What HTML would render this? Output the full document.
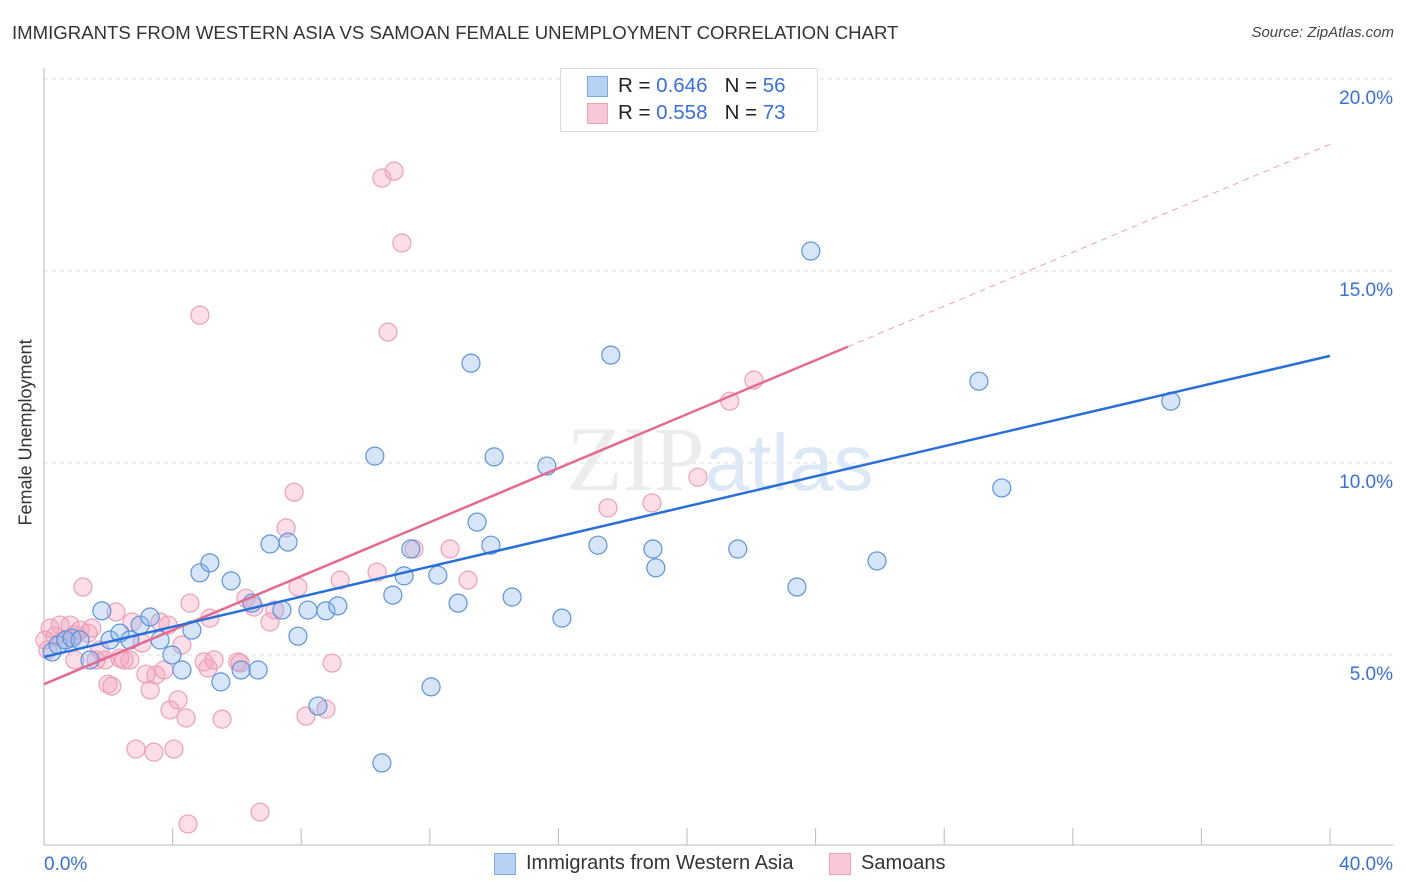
<!DOCTYPE html>
<html><head><meta charset="utf-8">
<style>
body{margin:0;background:#fff;font-family:"Liberation Sans",sans-serif;}
#wrap{position:relative;width:1406px;height:892px;overflow:hidden;}
.t{position:absolute;white-space:nowrap;}
</style></head>
<body>
<div id="wrap">
<div class="t" style="left:12px;top:22px;font-size:18.6px;color:#333;">IMMIGRANTS FROM WESTERN ASIA VS SAMOAN FEMALE UNEMPLOYMENT CORRELATION CHART</div>
<div class="t" style="right:12px;top:24px;font-size:15px;color:#444;font-style:italic;">Source: ZipAtlas.com</div>
<div class="t" style="left:-44px;top:445px;font-size:18px;color:#333;transform:rotate(-90deg);width:140px;text-align:center;">Female Unemployment</div>
<svg id="svg" width="1406" height="892" style="position:absolute;left:0;top:0"></svg>
<div style="position:absolute;left:560px;top:68px;width:256px;height:62px;border:1px solid #ddd;background:#fff;"></div>
<div style="position:absolute;left:587px;top:76px;width:19px;height:19px;background:#b8d2f4;border:1px solid #7fa8e0;"></div>
<div style="position:absolute;left:587px;top:103px;width:19px;height:19px;background:#f9c8d6;border:1px solid #eea2bb;"></div>
<div class="t" style="left:618px;top:74px;font-size:20.5px;color:#222;">R = <span style="color:#3a6fd8">0.646</span>&nbsp;&nbsp;&nbsp;N = <span style="color:#3a6fd8">56</span></div>
<div class="t" style="left:618px;top:101px;font-size:20.5px;color:#222;">R = <span style="color:#3a6fd8">0.558</span>&nbsp;&nbsp;&nbsp;N = <span style="color:#3a6fd8">73</span></div>
<div style="position:absolute;left:494px;top:853px;width:20px;height:20px;background:#b8d2f4;border:1px solid #7fa8e0;"></div>
<div class="t" style="left:526px;top:852px;font-size:20px;color:#333;">Immigrants from Western Asia</div>
<div style="position:absolute;left:829px;top:853px;width:20px;height:20px;background:#f9c8d6;border:1px solid #eea2bb;"></div>
<div class="t" style="left:861px;top:852px;font-size:20px;color:#333;">Samoans</div>
</div>
<script>
const xTicks=[0,40];
const yTicks=[5,10,15,20];
const blueX=[0.25,0.44,0.68,0.87,1.12,1.43,1.80,2.05,2.36,2.67,2.99,3.30,3.61,3.98,4.29,4.60,4.85,5.16,5.50,5.82,6.13,6.47,6.66,7.03,7.40,7.59,7.90,8.21,8.52,8.77,9.14,10.29,10.51,10.85,11.20,11.41,12.04,12.25,12.88,13.28,13.47,13.90,14.00,14.56,15.64,16.11,17.23,17.63,18.94,19.03,21.58,23.42,23.85,25.91,29.08,29.79,35.05];
const blueY=[5.08,5.26,5.39,5.44,5.39,4.87,6.15,5.39,5.57,5.39,5.78,5.99,5.39,5.00,4.61,5.65,7.14,7.40,4.30,6.93,4.61,6.35,4.61,7.89,6.17,7.94,5.49,6.17,3.67,6.15,6.28,10.18,2.19,6.56,7.06,7.76,4.17,7.08,6.35,12.60,8.46,7.86,10.16,6.51,9.92,5.96,7.86,12.81,7.76,7.27,7.76,6.77,15.52,7.45,12.13,9.35,11.61];
const pinkX=[0.19,0.34,0.50,0.65,0.81,0.96,1.12,1.21,1.37,1.49,1.62,1.74,1.90,1.99,2.11,2.24,2.36,2.49,2.67,2.74,2.86,3.05,3.17,3.30,3.42,3.48,3.61,3.73,3.86,3.92,4.04,4.17,4.29,4.42,4.54,4.85,4.98,5.10,5.16,5.29,5.54,6.03,6.10,6.28,6.53,6.72,7.03,7.18,7.53,7.78,7.90,8.15,8.77,8.96,9.21,10.36,10.51,10.70,10.89,11.13,11.51,12.63,13.19,17.54,18.91,20.34,21.33,22.08,0.03,0.12,4.48,0.96];
const pinkY=[5.70,5.49,5.78,5.39,5.78,5.52,5.65,6.77,5.57,5.70,4.87,5.13,4.87,4.24,4.19,6.12,4.92,4.87,4.87,5.86,2.55,5.31,4.50,4.09,2.47,4.48,5.86,4.61,5.78,3.57,2.55,3.83,5.26,3.36,6.35,13.85,4.82,4.66,5.96,4.87,3.33,4.82,4.79,6.48,6.25,0.91,5.86,6.17,8.31,9.24,6.77,3.41,3.59,4.79,6.95,7.16,17.42,13.41,17.60,15.73,7.76,7.76,6.95,8.83,8.96,9.63,11.61,12.16,5.39,5.13,0.60,4.87];
const blueLine=[4.95,12.79];
const pinkLine=[4.24,18.3];
const pinkSolidEnd=25.0;

const X=v=>44+v/40*1286, Y=v=>847-v/5*192;
const svg=document.getElementById('svg'),NS='http://www.w3.org/2000/svg';
function mk(t,a){const e=document.createElementNS(NS,t);for(const k in a)e.setAttribute(k,a[k]);svg.appendChild(e);return e;}
yTicks.forEach(v=>{
 const g=mk('line',{x1:44,x2:1393,y1:Y(v),y2:Y(v),stroke:'#ddd','stroke-dasharray':'4,4'});
 
 
 const t=mk('text',{x:1393,y:Y(v)+25,'text-anchor':'end','font-size':19,fill:'#3a6fd8','font-family':'Liberation Sans'});
 t.textContent=v.toFixed(1)+'%';
 
 
});
const ax=mk('line',{x1:44,x2:44,y1:68,y2:845,stroke:'#bbb'});


const bx=mk('line',{x1:44,x2:1393,y1:845,y2:845,stroke:'#bbb'});


for(let i=0;i<=10;i++){const tk=mk('line',{x1:X(i*4),x2:X(i*4),y1:828,y2:845,stroke:'#bbb'});
 
 }
xTicks.forEach((v,i)=>{const t=mk('text',{x:i?1393:44,y:870,'text-anchor':i?'end':'start','font-size':19,fill:'#3a6fd8','font-family':'Liberation Sans'});
 t.textContent=v.toFixed(1)+'%';
 
 });
const wm=mk('text',{x:720,y:490,'text-anchor':'middle','font-size':92,fill:'#ececec','font-family':'Liberation Serif'});
wm.innerHTML='ZIP<tspan fill="#dde8f6" font-family="Liberation Sans" font-size="80">atlas</tspan>';


pinkX.forEach((x,i)=>{const c=mk('circle',{cx:X(x),cy:Y(pinkY[i]),r:9,fill:'rgba(244,160,188,0.35)',stroke:'#eca0b8','stroke-width':1.2});
 
 });
blueX.forEach((x,i)=>{const c=mk('circle',{cx:X(x),cy:Y(blueY[i]),r:9,fill:'rgba(140,180,235,0.35)',stroke:'#5f93da','stroke-width':1.2});
 
 });
const py=x=>pinkLine[0]+(pinkLine[1]-pinkLine[0])*x/40;
const pd=mk('line',{x1:X(pinkSolidEnd),y1:Y(py(pinkSolidEnd)),x2:X(40),y2:Y(py(40)),stroke:'#eba0b8','stroke-dasharray':'6,5','stroke-width':1});


const ps=mk('line',{x1:X(0),y1:Y(py(0)),x2:X(pinkSolidEnd),y2:Y(py(pinkSolidEnd)),stroke:'#e46a92','stroke-width':2.5});


const bl=mk('line',{x1:X(0),y1:Y(blueLine[0]),x2:X(40),y2:Y(blueLine[1]),stroke:'#2a6fd6','stroke-width':2.5});


</script>
</body></html>
